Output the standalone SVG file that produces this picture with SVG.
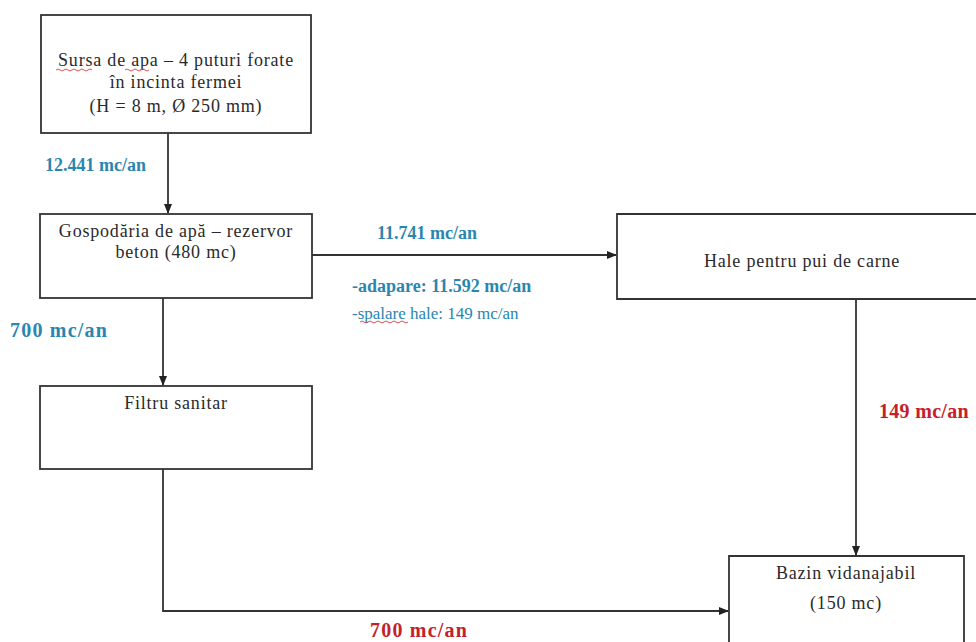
<svg xmlns="http://www.w3.org/2000/svg" width="976" height="642" viewBox="0 0 976 642">
<defs>
<marker id="arr" markerWidth="10" markerHeight="10" refX="9" refY="5" orient="auto" markerUnits="userSpaceOnUse">
<path d="M0,1 L10,5 L0,9 Z" fill="#222"/>
</marker>
<style>
.box{fill:#fff;stroke:#333;stroke-width:1.8}
.nt{font-family:"Liberation Serif","Times New Roman",serif;font-size:18px;letter-spacing:0.8px;fill:#2a2a2a;text-anchor:middle}
.lb{font-family:"Liberation Serif","Times New Roman",serif;font-weight:bold;font-size:18px}
.big{font-size:20px;letter-spacing:1.2px}
.blue{fill:#2a86b0}
.red{fill:#c42128}
.con{fill:none;stroke:#333;stroke-width:1.8}
.sq{fill:none;stroke:#d9534f;stroke-width:1}
</style>
</defs>
<rect width="976" height="642" fill="#fff"/>

<g id="connectors">
<path class="con" d="M168,133 V213" marker-end="url(#arr)"/>
<path class="con" d="M312,255 H616" marker-end="url(#arr)"/>
<path class="con" d="M163,298 V385" marker-end="url(#arr)"/>
<path class="con" d="M163,469 V611 H728" marker-end="url(#arr)"/>
<path class="con" d="M856,299 V555" marker-end="url(#arr)"/>
</g>

<g id="n_sursa">
<rect class="box" x="41" y="15" width="270" height="118"/>
<text class="nt" x="176" y="66">Sursa de apa – 4 puturi forate</text>
<text class="nt" x="176" y="88">în incinta fermei</text>
<text class="nt" x="176" y="112">(H = 8 m, Ø 250 mm)</text>
<path class="sq" d="M56,70 q2,-2 4,0 t4,0 t4,0 t4,0 t4,0 t4,0 t4,0 t4,0 t4,0"/>
<path class="sq" d="M125,70 q2,-2 4,0 t4,0 t4,0 t4,0 t4,0 t4,0"/>
</g>

<g id="n_gospodaria">
<rect class="box" x="40" y="214" width="272" height="84"/>
<text class="nt" x="176" y="237">Gospodăria de apă – rezervor</text>
<text class="nt" x="176" y="258">beton (480 mc)</text>
</g>

<g id="n_filtru">
<rect class="box" x="40" y="386" width="272" height="83"/>
<text class="nt" x="176" y="409">Filtru sanitar</text>
</g>

<g id="n_hale">
<path class="box" d="M980,214 H617 V299 H980"/>
<text class="nt" x="802" y="267">Hale pentru pui de carne</text>
</g>

<g id="n_bazin">
<path class="box" d="M729,646 V556 H964 V646"/>
<text class="nt" x="846" y="579">Bazin vidanajabil</text>
<text class="nt" x="846" y="609">(150 mc)</text>
</g>

<g id="labels">
<text class="lb blue" x="45" y="171">12.441 mc/an</text>
<text class="lb big blue" x="10" y="337">700 mc/an</text>
<text class="lb blue" x="377" y="239">11.741 mc/an</text>
<text class="lb blue" x="352" y="292">-adapare: 11.592 mc/an</text>
<text class="blue" x="352" y="319" font-family="Liberation Serif, serif" font-size="17">-spalare hale: 149 mc/an</text>
<path class="sq" d="M360,322 q2,-2 4,0 t4,0 t4,0 t4,0 t4,0 t4,0 t4,0 t4,0 t4,0 t4,0 t4,0 t4,0"/>
<text class="lb red" x="879" y="418" style="font-size:20px;letter-spacing:0.3px">149 mc/an</text>
<text class="lb big red" x="370" y="637">700 mc/an</text>
</g>
</svg>
